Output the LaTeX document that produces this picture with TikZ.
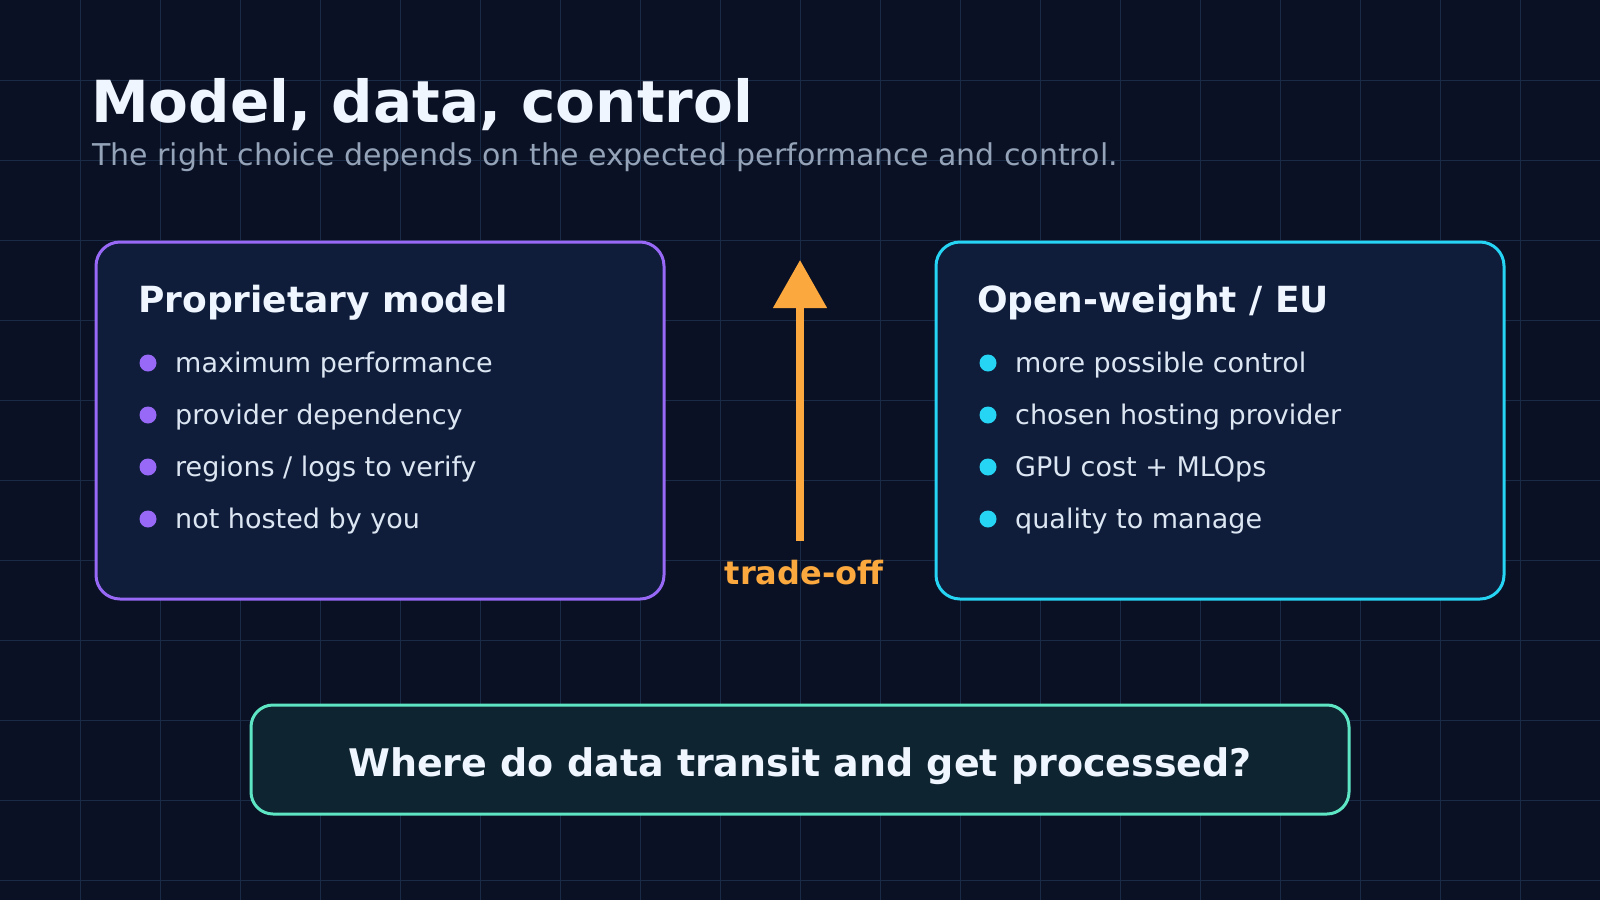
\documentclass[tikz,border=0pt]{standalone}
\usepackage{fontspec}
\setmainfont{DejaVu Sans}
\usetikzlibrary{arrows.meta,positioning}
\definecolor{bgnavy}{HTML}{0A1124}
\definecolor{gridline}{HTML}{1A2B48}
\definecolor{cardfill}{HTML}{0F1D3B}
\definecolor{violetline}{HTML}{9868F7}
\definecolor{cyanline}{HTML}{26D4F4}
\definecolor{amber}{HTML}{FBA93E}
\definecolor{mint}{HTML}{5EE6C4}
\definecolor{qfill}{HTML}{0E2431}
\definecolor{titletext}{HTML}{EFF6FF}
\definecolor{subtext}{HTML}{94A3B8}
\definecolor{itemtext}{HTML}{DCE6F2}

\tikzset{
  card/.style={draw, line width=3pt, fill=cardfill, rounded corners=24pt,
    minimum width=568pt, minimum height=357pt, inner sep=0pt},
  cardtitle/.style={anchor=base west, inner sep=0pt, text=titletext,
    font=\fontsize{36}{43}\selectfont\bfseries},
  item/.style={anchor=base west, inner sep=0pt, text=itemtext,
    font=\fontsize{27}{32}\selectfont}
}

\begin{document}
\begin{tikzpicture}[x=1pt, y=-1pt]
  \fill[bgnavy] (0,0) rectangle (1600,900);
  \useasboundingbox (0,0) rectangle (1600,900);
  % grid
  \foreach \gx in {80,160,...,1520}
    \draw[gridline, line width=1pt] (\gx,0) -- (\gx,900);
  \foreach \gy in {80,160,...,880}
    \draw[gridline, line width=1pt] (0,\gy) -- (1600,\gy);

  % heading
  \node[anchor=base west, inner sep=0pt, text=titletext,
        font=\fontsize{58}{70}\selectfont\bfseries] (title) at (91,122) {Model, data, control};
  \node[anchor=base west, inner sep=0pt, text=subtext,
        font=\fontsize{30}{36}\selectfont] (subtitle) at (92,165)
        {The right choice depends on the expected performance and control.};

  % proprietary side
  \node[card, draw=violetline] (propcard) at (380,420.5) {};
  \node[cardtitle] (proptitle) at (138,312) {Proprietary model};
  \foreach \t [count=\i] in {maximum performance, provider dependency,
      regions / logs to verify, not hosted by you} {
    \fill[violetline] (148,{311+52*\i}) circle (8.5);
    \node[item] (prop-\i) at (175,{320+52*\i}) {\t};
  }

  % open-weight side
  \node[card, draw=cyanline] (opencard) at (1220,420.5) {};
  \node[cardtitle] (opentitle) at (977,312) {Open-weight / EU};
  \foreach \t [count=\i] in {more possible control, chosen hosting provider,
      GPU cost + MLOps, quality to manage} {
    \fill[cyanline] (988,{311+52*\i}) circle (8.5);
    \node[item] (open-\i) at (1015,{320+52*\i}) {\t};
  }

  % trade-off arrow
  \coordinate (arrowbot) at (800,541);
  \coordinate (arrowtop) at (800,260);
  \draw[amber, line width=8pt, -{Triangle[length=48pt, width=52pt]}] (arrowbot) -- (arrowtop);
  \node[anchor=base, inner sep=0pt, text=amber,
        font=\fontsize{32}{38}\selectfont\bfseries] (tradeoff) at (804,584) {trade-off};

  % question
  \node[draw=mint, line width=3pt, fill=qfill, rounded corners=22pt,
        minimum width=1098pt, minimum height=109pt] (qbox) at (800,759.5) {};
  \node[anchor=base, inner sep=0pt, text=titletext,
        font=\fontsize{38}{46}\selectfont\bfseries] (qtext) at (800,776)
        {Where do data transit and get processed?};
\end{tikzpicture}
\end{document}
